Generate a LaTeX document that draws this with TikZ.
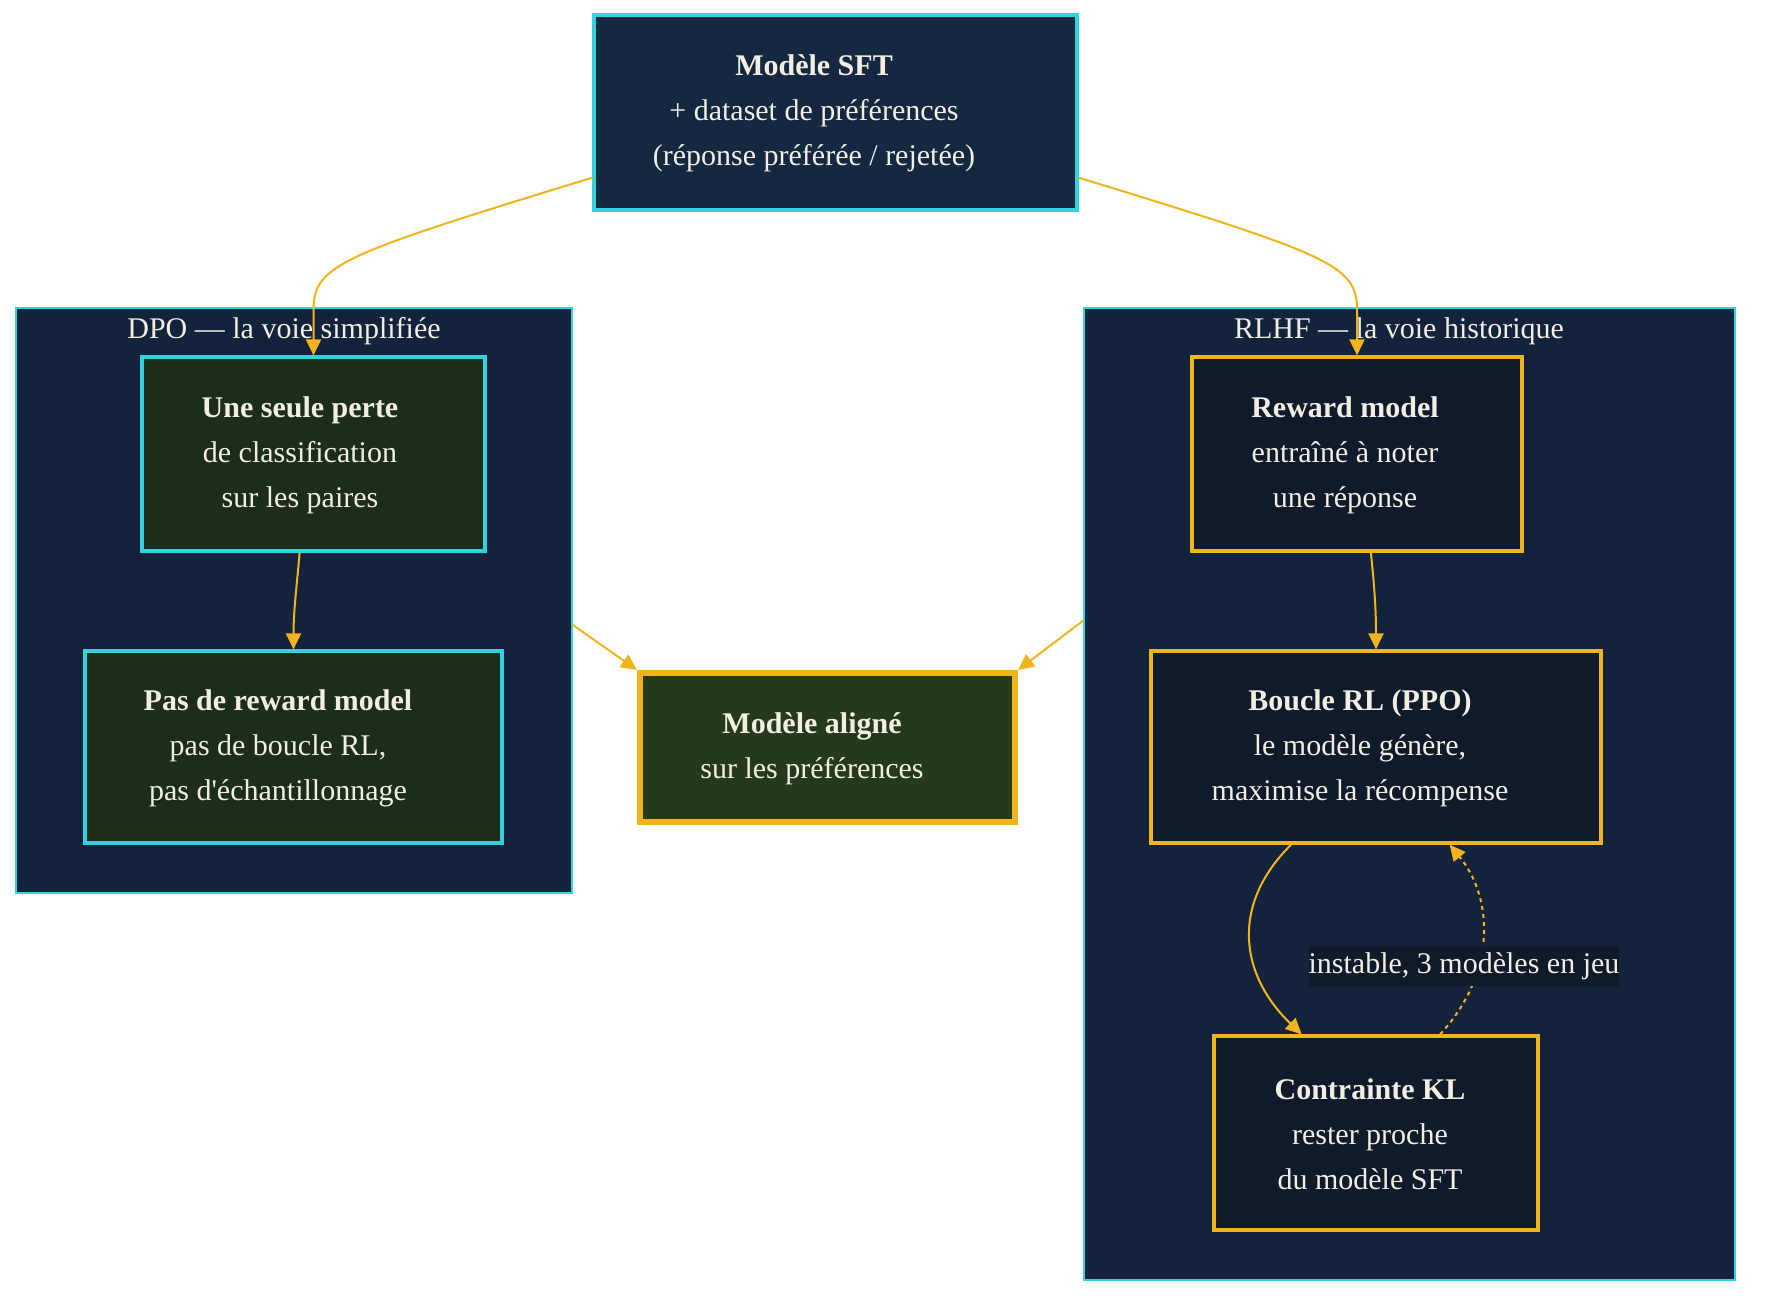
\documentclass[tikz,border=0pt]{standalone}
\usepackage{fontspec}
\setmainfont{Liberation Serif}
\usetikzlibrary{arrows.meta}

\definecolor{navy}{HTML}{13233C}
\definecolor{sftfill}{HTML}{142841}
\definecolor{cyanline}{HTML}{32D3E0}
\definecolor{gold}{HTML}{F2B41C}
\definecolor{dpofill}{HTML}{1C2D1B}
\definecolor{alignfill}{HTML}{243A1B}
\definecolor{rlhffill}{HTML}{0F1B2B}
\definecolor{cream}{HTML}{F2EEE4}

\begin{document}
\begin{tikzpicture}[x=0.5pt, y=-0.5pt, >={Triangle[length=8pt, width=7.5pt]},
  txt/.style={font=\fontsize{15}{22.5}\selectfont, text=cream, align=center},
  cluster/.style={draw=cyanline, line width=0.75pt, fill=navy, inner sep=0pt},
  sftbox/.style={draw=cyanline, line width=1.6pt, fill=sftfill, inner sep=0pt},
  dpobox/.style={draw=cyanline, line width=1.6pt, fill=dpofill, inner sep=0pt},
  rlhfbox/.style={draw=gold, line width=1.6pt, fill=rlhffill, inner sep=0pt},
  alignbox/.style={draw=gold, line width=3pt, fill=alignfill, inner sep=0pt},
  flow/.style={->, draw=gold, line width=1pt}]

  \fill[white] (0,0) rectangle (1768,1308);

  % clusters
  \node[cluster, minimum width=278pt, minimum height=292.5pt] (dpo) at (294,600.5) {};
  \node[txt] (dpo-t) at (284,331) {DPO — la voie simplifiée};
  \node[cluster, minimum width=325.5pt, minimum height=486pt] (rlhf) at (1409.5,794) {};
  \node[txt] (rlhf-t) at (1399,331) {RLHF — la voie historique};

  % boxes
  \node[sftbox, minimum width=241.5pt, minimum height=97.5pt] (sft) at (835.5,112.5) {};
  \node[txt] (sft-t) at (814,113.5) {\textbf{Modèle SFT}\\+ dataset de préférences\\(réponse préférée / rejetée)};

  \node[dpobox, minimum width=171.5pt, minimum height=97pt] (perte) at (313.5,454) {};
  \node[txt] (perte-t) at (300,455.5) {\textbf{Une seule perte}\\de classification\\sur les paires};

  \node[dpobox, minimum width=208.5pt, minimum height=96pt] (pasrm) at (293.5,747) {};
  \node[txt] (pasrm-t) at (278,748.5) {\textbf{Pas de reward model}\\pas de boucle RL,\\pas d\textquotesingle échantillonnage};

  \node[alignbox, minimum width=187.5pt, minimum height=74.5pt] (aligne) at (827.5,747.5) {};
  \node[txt] (aligne-t) at (812,748.5) {\textbf{Modèle aligné}\\sur les préférences};

  \node[rlhfbox, minimum width=165pt, minimum height=97pt] (reward) at (1357,454) {};
  \node[txt] (reward-t) at (1345,455.5) {\textbf{Reward model}\\entraîné à noter\\une réponse};

  \node[rlhfbox, minimum width=225pt, minimum height=96pt] (boucle) at (1376,747) {};
  \node[txt] (boucle-t) at (1360,748.5) {\textbf{Boucle RL (PPO)}\\le modèle génère,\\maximise la récompense};

  \node[rlhfbox, minimum width=162pt, minimum height=97pt] (kl) at (1376,1133) {};
  \node[txt] (kl-t) at (1370,1134) {\textbf{Contrainte KL}\\rester proche\\du modèle SFT};

  % connectors
  \draw[flow] (sft.195.6) .. controls (340,255) and (313.5,265) .. (313.5,310) -- (perte.north);
  \draw[flow] (sft.-15.6) .. controls (1331,255) and (1357,265) .. (1357,310) -- (reward.north);
  \draw[flow] (perte.-98.5) to[out=-95, in=90] (pasrm.north);
  \draw[flow] (reward.-82.4) to[out=-84, in=90] (boucle.north);
  \draw[flow] (dpo.-5.2) -- (aligne.north west);
  \draw[flow] (rlhf.152.7) -- (aligne.north east);
  \draw[flow] (boucle.-131.5) .. controls (1230,905) and (1240,975) .. (kl.127.3);
  \draw[flow, dash pattern=on 2pt off 2pt] (kl.57) .. controls (1495,975) and (1495,900) .. (boucle.-53.1);

  \node[txt, fill=rlhffill, inner xsep=0pt, inner ysep=3pt] (instable) at (1464,966) {instable, 3 modèles en jeu};
\end{tikzpicture}
\end{document}
